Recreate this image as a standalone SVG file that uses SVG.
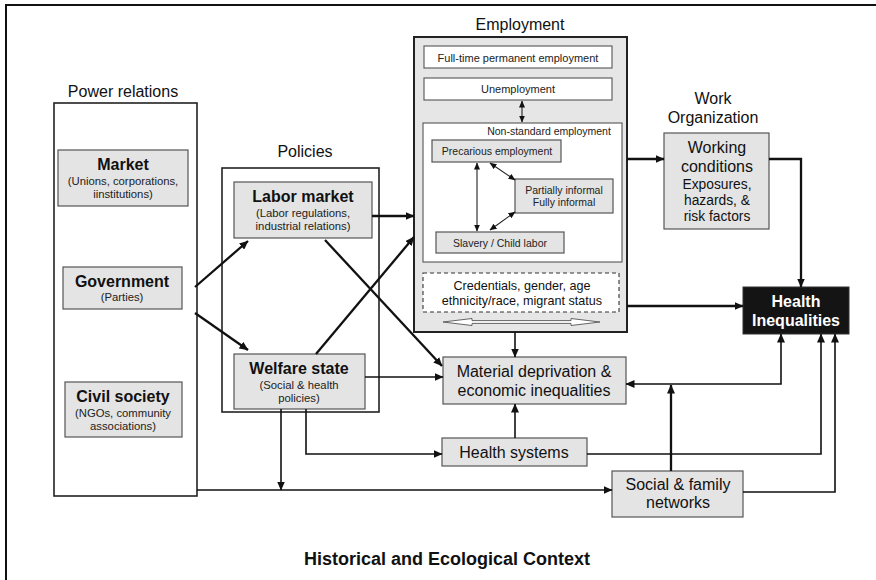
<svg xmlns="http://www.w3.org/2000/svg" width="876" height="580" viewBox="0 0 876 580">
  <defs>
    <marker id="ah" markerUnits="userSpaceOnUse" markerWidth="9" markerHeight="8" refX="8.5" refY="4" orient="auto-start-reverse">
      <path d="M0,0 L9,4 L0,8 z" fill="#111"/>
    </marker>
    <marker id="ahs" markerUnits="userSpaceOnUse" markerWidth="7" markerHeight="6" refX="6.5" refY="3" orient="auto-start-reverse">
      <path d="M0,0 L7,3 L0,6 z" fill="#111"/>
    </marker>
    <style>
      text { font-family: "Liberation Sans", Arial, sans-serif; fill: #111; text-anchor: middle; }
      .title { font-size: 16px; }
      .bold { font-weight: bold; font-size: 16px; }
      .sub { font-size: 11.3px; fill: #222; }
      .small { font-size: 10.5px; fill: #222; }
      .mid { font-size: 16px; }
      .frame { fill: none; stroke: #111; stroke-width: 2; }
      .group { fill: #fff; stroke: #222; stroke-width: 1.6; }
      .box { fill: #e4e4e4; stroke: #555; stroke-width: 1.2; }
      .wbox { fill: #fff; stroke: #555; stroke-width: 1.1; }
      .c { fill: none; stroke: #111; stroke-width: 1.6; }
      .ct { fill: none; stroke: #111; stroke-width: 2.3; }
      .ci { fill: none; stroke: #222; stroke-width: 1.1; }
    </style>
  </defs>

  <rect width="876" height="580" fill="#fff"/>
  <path class="frame" d="M6,580 V5 H876"/>

  <!-- Power relations -->
  <g id="power-relations">
    <text class="title" x="123" y="97">Power relations</text>
    <rect class="group" x="54" y="103" width="143" height="393"/>
  </g>
  <g id="market">
    <rect class="box" x="58" y="150" width="130" height="56"/>
    <text class="bold" x="123" y="170">Market</text>
    <text class="sub" x="123" y="185">(Unions, corporations,</text>
    <text class="sub" x="123" y="198">iinstitutions)</text>
  </g>
  <g id="government">
    <rect class="box" x="63" y="267" width="119" height="42"/>
    <text class="bold" x="122" y="287">Government</text>
    <text class="sub" x="122" y="301">(Parties)</text>
  </g>
  <g id="civil-society">
    <rect class="box" x="65" y="382" width="117" height="55"/>
    <text class="bold" x="123" y="402">Civil society</text>
    <text class="sub" x="123" y="417">(NGOs, community</text>
    <text class="sub" x="123" y="430">associations)</text>
  </g>

  <!-- Policies -->
  <g id="policies">
    <text class="title" x="305" y="157">Policies</text>
    <rect class="group" x="222" y="168" width="157" height="244"/>
  </g>
  <g id="labor-market">
    <rect class="box" x="234" y="182" width="138" height="56"/>
    <text class="bold" x="303" y="202">Labor market</text>
    <text class="sub" x="303" y="217">(Labor regulations,</text>
    <text class="sub" x="303" y="230">industrial relations)</text>
  </g>
  <g id="welfare-state">
    <rect class="box" x="234" y="354" width="131" height="55"/>
    <text class="bold" x="299" y="374">Welfare state</text>
    <text class="sub" x="299" y="389">(Social &amp; health</text>
    <text class="sub" x="299" y="402">policies)</text>
  </g>

  <!-- Employment -->
  <g id="employment">
    <text class="title" x="520" y="30">Employment</text>
    <rect x="414" y="37" width="213" height="295" fill="#e6e6e6" stroke="#222" stroke-width="2"/>
    <rect class="wbox" x="424" y="46" width="188" height="22"/>
    <text class="sub" x="518" y="62" style="font-size:11px">Full-time permanent employment</text>
    <rect class="wbox" x="424" y="78" width="188" height="22"/>
    <text class="sub" x="518" y="93" style="font-size:11px">Unemployment</text>
    <rect class="wbox" x="423" y="123" width="199" height="139"/>
    <text class="small" x="549" y="135">Non-standard employment</text>
    <rect class="box" x="432" y="140" width="129" height="22"/>
    <text class="small" x="497" y="155">Precarious employment</text>
    <rect class="box" x="515" y="179" width="98" height="34"/>
    <text class="small" x="564" y="194">Partially informal</text>
    <text class="small" x="564" y="206">Fully informal</text>
    <rect class="box" x="436" y="232" width="128" height="21"/>
    <text class="small" x="500" y="247">Slavery / Child labor</text>
    <rect x="423" y="273" width="196" height="39" fill="#fff" stroke="#333" stroke-width="1.1" stroke-dasharray="4,3"/>
    <text x="522" y="290" style="font-size:12.6px">Credentials, gender, age</text>
    <text x="522" y="305" style="font-size:12.6px">ethnicity/race, migrant status</text>
    <polygon points="443,322 472,318.5 472,320.6 571,320.6 571,318.5 600,322 571,325.5 571,323.4 472,323.4 472,325.5" fill="#fff" stroke="#555" stroke-width="0.9"/>
    <!-- arrows between employment categories -->
    <path class="ci" d="M522,101 V122" marker-start="url(#ahs)" marker-end="url(#ahs)"/>
    <path class="ci" d="M477,163 V231" marker-start="url(#ahs)" marker-end="url(#ahs)"/>
    <path class="ci" d="M490,163 L515,180" marker-start="url(#ahs)" marker-end="url(#ahs)"/>
    <path class="ci" d="M515,212 L490,230" marker-start="url(#ahs)" marker-end="url(#ahs)"/>
  </g>

  <!-- Work organization -->
  <g id="working-conditions">
    <text class="title" x="713" y="104">Work</text>
    <text class="title" x="713" y="123">Organization</text>
    <rect class="box" x="664" y="133" width="105" height="96"/>
    <text class="mid" x="717" y="153">Working</text>
    <text class="mid" x="717" y="172">conditions</text>
    <text x="717" y="189" style="font-size:13.8px">Exposures,</text>
    <text x="717" y="205" style="font-size:13.8px">hazards, &amp;</text>
    <text x="717" y="221" style="font-size:13.8px">risk factors</text>
  </g>

  <g id="health-inequalities">
    <rect x="743" y="287" width="106" height="47" fill="#141414" stroke="#333" stroke-width="1"/>
    <text class="bold" x="796" y="307" style="fill:#fff">Health</text>
    <text class="bold" x="796" y="326" style="fill:#fff">Inequalities</text>
  </g>

  <g id="material-deprivation">
    <rect class="box" x="443" y="357" width="183" height="47"/>
    <text class="mid" x="534" y="377">Material deprivation &amp;</text>
    <text class="mid" x="534" y="396">economic inequalities</text>
  </g>

  <g id="health-systems">
    <rect class="box" x="442" y="438" width="145" height="28"/>
    <text class="mid" x="514" y="458">Health systems</text>
  </g>

  <g id="social-family-networks">
    <rect class="box" x="612" y="471" width="131" height="46"/>
    <text class="mid" x="678" y="490">Social &amp; family</text>
    <text class="mid" x="678" y="508">networks</text>
  </g>

  <text x="447" y="565" style="font-size:18px;font-weight:bold">Historical and Ecological Context</text>

  <!-- Connectors -->
  <g id="connectors">
    <path class="ct" d="M195,287 L248,241" marker-end="url(#ah)"/>
    <path class="ct" d="M195,313 L248,350" marker-end="url(#ah)"/>
    <path class="ct" d="M372,216 H414" marker-end="url(#ah)"/>
    <path class="ct" d="M316,354 L414,237" marker-end="url(#ah)"/>
    <path class="ct" d="M325,240 L442,366" marker-end="url(#ah)"/>
    <path class="c" d="M365,377 H443" marker-end="url(#ah)"/>
    <path class="c" d="M306,409 V454 H442" marker-end="url(#ah)"/>
    <path class="c" d="M281,409 V490" marker-end="url(#ah)"/>
    <path class="c" d="M197,490 H612" marker-end="url(#ah)"/>
    <path class="c" d="M515,332 V357" marker-end="url(#ah)"/>
    <path class="c" d="M515,438 V404" marker-end="url(#ah)"/>
    <path class="ct" d="M627,159 H664" marker-end="url(#ah)"/>
    <path class="ct" d="M769,159 H801 V287" marker-end="url(#ah)"/>
    <path class="ct" d="M627,306 H743" marker-end="url(#ah)"/>
    <path class="c" d="M781,334 V384 H626" marker-start="url(#ah)" marker-end="url(#ah)"/>
    <path class="ct" d="M671,471 V385" marker-end="url(#ah)"/>
    <path class="c" d="M587,454 H821 V334" marker-end="url(#ah)"/>
    <path class="c" d="M743,492 H835 V334" marker-end="url(#ah)"/>
  </g>
</svg>
